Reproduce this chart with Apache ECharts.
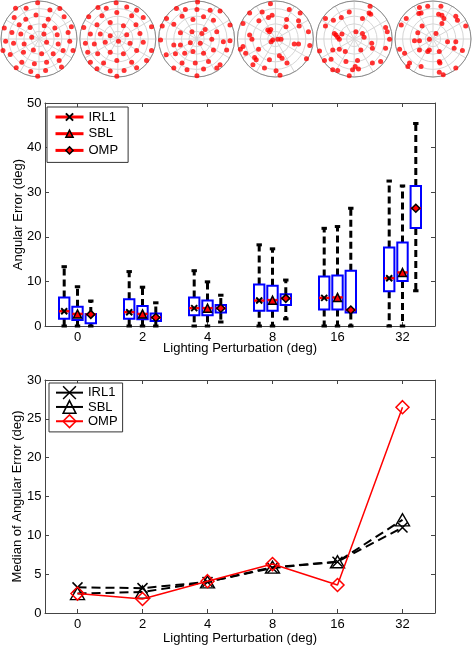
<!DOCTYPE html>
<html><head><meta charset="utf-8">
<script src="https://cdn.jsdelivr.net/npm/echarts@6/dist/echarts.min.js"></script>
<style>html,body{margin:0;padding:0;background:#fff}#c{width:472px;height:646px}</style>
</head><body><div id="c"></div><script>
// ---------- DATA ----------
const categories = ['0', '2', '4', '8', '16', '32'];
const methods = ['IRL1', 'SBL', 'OMP'];
// box statistics per category: [min, q1, median, q3, max]  (deg)
const boxIRL1 = [[0,1.65,3.3,6.4,13.3],[0,1.65,3.1,6.0,12.2],[0,2.4,4.0,6.4,12.4],[0,3.4,5.7,9.3,18.2],[0,3.7,6.3,11.1,21.9],[0,7.8,10.7,17.6,32.5]];
const boxSBL  = [[0,1.35,2.7,4.3,8.8],[0,1.5,2.7,4.5,8.7],[0,2.4,4.0,5.7,9.9],[0,3.4,5.8,9.0,17.3],[0,3.7,6.4,11.3,22.3],[0,10.1,12.0,18.7,31.4]];
const boxOMP  = [[0,0.6,2.6,2.7,5.6],[0,1.1,1.9,2.8,5.2],[0.9,3.0,4.0,4.7,6.9],[1.6,4.7,6.2,7.1,10.3],[0,3.0,3.6,12.4,26.4],[7.9,22.0,26.4,31.4,45.4]];
// median angular error (bottom chart)
const medIRL1 = [3.3, 3.2, 4.0, 5.8, 6.6, 11.0];
const medSBL  = [2.5, 2.7, 4.0, 5.9, 6.6, 12.0];
const medOMP  = [2.5, 1.8, 4.1, 6.3, 3.6, 26.5];
// light directions (projected, unit circle radius = 115)
const LIGHT_R = 115;
const light1 = [[-4,110],[-71,93],[-39,93],[33,88],[63,92],[-75,65],[-9,73],[-40,60],[28,60],[76,67],[-105,33],[-60,43],[16,40],[-27,35],[48,33],[98,37],[-82,20],[-55,15],[-22,5],[15,15],[55,13],[88,20],[-101,-7],[-77,-13],[-45,-15],[23,-10],[58,-15],[93,-7],[-109,-35],[-87,-47],[-47,-40],[-17,-33],[8,-45],[43,-45],[73,-35],[103,-35],[-52,-70],[-14,-75],[23,-70],[61,-65],[-69,-87],[-25,-98],[20,-95],[68,-85],[-4,-113]];
const light2 = [[-5,110],[-60,95],[-35,93],[27,97],[57,87],[-88,67],[-48,70],[-3,80],[42,70],[77,65],[-103,35],[-63,43],[-23,50],[17,40],[55,43],[102,37],[-83,15],[-53,15],[-23,10],[27,13],[67,17],[-98,-13],[-71,-15],[-38,-10],[2,-7],[37,-13],[77,-10],[-91,-40],[-61,-45],[-23,-40],[17,-45],[57,-35],[102,-35],[-83,-70],[-43,-73],[-3,-65],[42,-70],[87,-65],[-63,-90],[-23,-97],[19,-95],[57,-87],[-3,-113]];
const light3 = [[3,112],[-61,92],[-34,89],[1,89],[41,87],[71,85],[-91,62],[-69,45],[-44,69],[-11,59],[21,67],[51,57],[101,42],[-104,39],[-49,19],[-14,22],[26,29],[16,17],[61,22],[-109,-3],[-69,-18],[-49,-18],[-19,-11],[11,-13],[46,-1],[81,-8],[101,-5],[-92,-48],[-64,-45],[-36,-43],[-11,-38],[21,-43],[51,-33],[91,-33],[-69,-88],[-44,-73],[-4,-73],[36,-68],[71,-78],[-29,-93],[21,-91],[61,-88],[1,-111]];
const light4 = [[-15,107],[-78,79],[-40,82],[-21,65],[-10,72],[42,89],[75,79],[-98,47],[-50,55],[34,59],[70,55],[-23,27],[-14,29],[-18,22],[32,37],[72,39],[100,22],[-78,12],[-71,-1],[-13,-8],[-8,-3],[7,-1],[17,-1],[57,-15],[70,-15],[104,-20],[-98,-23],[-106,-31],[-90,-43],[-51,-31],[-58,-63],[-63,-56],[-18,-63],[12,-51],[20,-58],[35,-73],[94,-60],[-68,-78],[-33,-88],[2,-96],[14,-110]];
const light5 = [[48,99],[-15,82],[45,79],[50,75],[-87,62],[-63,57],[-39,65],[25,62],[-87,39],[-60,17],[-55,12],[-50,5],[-37,15],[-45,-1],[5,22],[25,17],[30,5],[95,35],[100,22],[107,-1],[-105,-36],[-65,-33],[-45,-31],[-27,-38],[20,-33],[53,-13],[55,-28],[95,-28],[-90,-65],[-70,-61],[-25,-68],[10,-65],[55,-73],[80,-68],[-65,-93],[-50,-95],[3,-83],[-5,-93],[13,-91],[-15,-111]];
const light6 = [[-41,95],[-16,99],[24,99],[-43,77],[-36,79],[17,75],[27,72],[33,62],[69,69],[74,57],[27,47],[-81,62],[-96,42],[-33,39],[-46,19],[99,39],[-56,-5],[-41,-5],[-11,-1],[9,17],[44,-8],[69,-8],[-101,-31],[-86,-43],[-41,-33],[-16,-38],[-11,-33],[19,-38],[64,-28],[89,-35],[-76,-83],[-71,-73],[-36,-83],[19,-68],[21,-73],[69,-88],[19,-101],[31,-108]];
const lightSets = [light1, light2, light3, light4, light5, light6];

// ---------- BUILD ----------
const FONT = '"Liberation Sans", Arial, Helvetica, sans-serif';
const AX = '#444';
const grid = [], xAxis = [], yAxis = [], series = [], polar = [], radiusAxis = [], angleAxis = [];

// top: polar scatter plots
const PR = 38, PCY = 39;
lightSets.forEach((pts, i) => {
  const cx = 39 + i * 78.8;
  polar.push({ center: [cx, PCY], radius: PR });
  radiusAxis.push({ polarIndex: i, type: 'value', min: 0, max: 1, interval: 0.2,
    axisLine: { show: false }, axisTick: { show: false }, axisLabel: { show: false },
    splitLine: { show: true, lineStyle: { color: '#d6d6d6', width: 1 } } });
  angleAxis.push({ polarIndex: i, type: 'value', min: 0, max: 360, interval: 30, startAngle: 90,
    axisLine: { show: true, lineStyle: { color: '#8c8c8c', width: 1 } }, axisTick: { show: false }, axisLabel: { show: false },
    splitLine: { show: true, lineStyle: { color: '#d6d6d6', width: 1 } } });
  grid.push({ left: cx - PR, top: PCY - PR, width: 2 * PR, height: 2 * PR, outerBoundsMode: 'none' });
  xAxis.push({ gridIndex: i, type: 'value', min: -LIGHT_R, max: LIGHT_R, show: false });
  yAxis.push({ gridIndex: i, type: 'value', min: -LIGHT_R, max: LIGHT_R, show: false });
  series.push({ type: 'scatter', xAxisIndex: i, yAxisIndex: i, data: pts, symbolSize: 5,
    itemStyle: { color: '#ff0000' }, silent: true, z: 5 });
});

const tickStyle = { show: true, inside: true, length: 4, lineStyle: { color: AX, width: 1 } };
const lineAx = { show: true, onZero: false, lineStyle: { color: AX, width: 1 } };
const lblStyle = { color: '#000', fontSize: 13, fontFamily: FONT };

function catAxis(gridIndex, visible, extra) {
  const base = { gridIndex, type: 'category', data: categories, boundaryGap: true };
  if (!visible) return Object.assign(base, { show: false });
  return Object.assign(base, {
    axisLine: lineAx, axisTick: Object.assign({ alignWithLabel: true }, tickStyle),
    axisLabel: Object.assign({ margin: 5 }, lblStyle), splitLine: { show: false },
    nameMoveOverlap: false, nameTextStyle: lblStyle
  }, extra || {});
}
function valAxis(gridIndex, visible, min, max, interval, extra) {
  const base = { gridIndex, type: 'value', min, max, interval };
  if (!visible) return Object.assign(base, { show: false });
  return Object.assign(base, {
    axisLine: lineAx, axisTick: tickStyle, axisLabel: Object.assign({ margin: 3.5 }, lblStyle),
    splitLine: { show: false }, nameMoveOverlap: false, nameTextStyle: lblStyle
  }, extra || {});
}

// middle: box plots (one grid per method, shifted horizontally)
const MID = { left: 45, right: 37, top: 103, height: 223 };
const SHIFT = 13.3;
const boxSets = [boxIRL1, boxSBL, boxOMP];
const midG = grid.length;
[-SHIFT, 0, SHIFT].forEach(s => grid.push({ left: MID.left + s, right: MID.right - s, top: MID.top, height: MID.height, outerBoundsMode: 'none' }));
const midX = xAxis.length;
[0, 1, 2].forEach(j => xAxis.push(catAxis(midG + j, j === 1,
  { name: 'Lighting Perturbation (deg)', nameLocation: 'middle', nameGap: 15.5 })));
xAxis.push(catAxis(midG + 1, true, { position: 'top', axisLabel: { show: false } }));
const midY = yAxis.length;
[0, 1, 2].forEach(j => yAxis.push(valAxis(midG + j, j === 1, 0, 50, 10,
  { name: 'Angular Error (deg)', nameLocation: 'middle', nameGap: 20 })));
yAxis.push(valAxis(midG + 1, true, 0, 50, 10, { position: 'right', axisLabel: { show: false } }));

function renderBox(params, api) {
  const c = api.value(0);
  const pMin = api.coord([c, api.value(1)]);
  const pQ1 = api.coord([c, api.value(2)]);
  const pMed = api.coord([c, api.value(3)]);
  const pQ3 = api.coord([c, api.value(4)]);
  const pMax = api.coord([c, api.value(5)]);
  const bw = api.size([1, 0])[0] * 0.16;
  const x = pMed[0], cap = bw * 0.26;
  const dash = { stroke: '#000', lineWidth: 3, lineDash: [7, 4] };
  const capS = { stroke: '#000', lineWidth: 3 };
  return { type: 'group', children: [
    { type: 'line', shape: { x1: x, y1: pQ3[1], x2: x, y2: pMax[1] }, style: dash },
    { type: 'line', shape: { x1: x, y1: pQ1[1], x2: x, y2: pMin[1] }, style: dash },
    { type: 'line', shape: { x1: x - cap, y1: pMax[1], x2: x + cap, y2: pMax[1] }, style: capS },
    { type: 'line', shape: { x1: x - cap, y1: pMin[1], x2: x + cap, y2: pMin[1] }, style: capS },
    { type: 'rect', shape: { x: x - bw / 2, y: pQ3[1], width: bw, height: pQ1[1] - pQ3[1] },
      style: { fill: 'none', stroke: '#0000ff', lineWidth: 2 } },
    { type: 'line', shape: { x1: x - bw / 2, y1: pMed[1], x2: x + bw / 2, y2: pMed[1] },
      style: { stroke: '#ff0000', lineWidth: 2.5 } }
  ] };
}

const XPATH = 'path://M0,0L10,10M0,10L10,0';
const midSymbols = [
  { symbol: XPATH, symbolSize: 6, itemStyle: { color: '#000', borderColor: '#000', borderWidth: 2 } },
  { symbol: 'triangle', symbolSize: 8, itemStyle: { color: '#ff0000', borderColor: '#000', borderWidth: 1.5 } },
  { symbol: 'diamond', symbolSize: 8, itemStyle: { color: '#ff0000', borderColor: '#000', borderWidth: 1.5 } }
];
methods.forEach((m, j) => {
  series.push(Object.assign({ type: 'line', name: m, xAxisIndex: midX + j, yAxisIndex: midY + j,
    data: boxSets[j].map(b => b[2]), lineStyle: { opacity: 0 }, showSymbol: true, silent: true, z: 4 }, midSymbols[j]));
});
methods.forEach((m, j) => {
  series.push({ type: 'custom', name: m + ' box', xAxisIndex: midX + j, yAxisIndex: midY + j,
    data: boxSets[j].map((b, i) => [i].concat(b)), encode: { x: 0, y: [1, 2, 3, 4, 5] },
    renderItem: renderBox, silent: true, z: 3 });
});

// bottom: median line chart
const botG = grid.length;
grid.push({ left: 45, right: 37, top: 380, height: 233, outerBoundsMode: 'none' });
const botX = xAxis.length;
xAxis.push(catAxis(botG, true, { name: 'Lighting Perturbation (deg)', nameLocation: 'middle', nameGap: 18.5 }));
xAxis.push(catAxis(botG, true, { position: 'top', axisLabel: { show: false } }));
const botY = yAxis.length;
yAxis.push(valAxis(botG, true, 0, 30, 5, { name: 'Median of Angular Error (deg)', nameLocation: 'middle', nameGap: 21 }));
yAxis.push(valAxis(botG, true, 0, 30, 5, { position: 'right', axisLabel: { show: false } }));

const medSets = [medIRL1, medSBL, medOMP];
const botCfg = [
  { symbol: XPATH, symbolSize: 10, itemStyle: { color: 'transparent', borderColor: '#000', borderWidth: 1.5 },
    lineStyle: { color: '#000', width: 2, type: [9, 5] } },
  { symbol: 'triangle', symbolSize: [14, 12], itemStyle: { color: 'transparent', borderColor: '#000', borderWidth: 1.4 },
    lineStyle: { color: '#000', width: 2, type: [9, 5] } },
  { symbol: 'diamond', symbolSize: 13, itemStyle: { color: 'transparent', borderColor: '#ff0000', borderWidth: 1.5 },
    lineStyle: { color: '#ff0000', width: 1.5, type: 'solid' } }
];
methods.forEach((m, j) => {
  series.push(Object.assign({ type: 'line', name: m + ' ', xAxisIndex: botX, yAxisIndex: botY,
    data: medSets[j], showSymbol: true, silent: true, z: 4 - (2 - j) * 0.1 }, botCfg[j]));
});

const legendText = { color: '#000', fontSize: 13, fontFamily: FONT, lineHeight: 14 };
const option = {
  animation: false,
  backgroundColor: '#fff',
  textStyle: { fontFamily: FONT },
  polar, radiusAxis, angleAxis, grid, xAxis, yAxis, series,
  legend: [
    { orient: 'vertical', left: 47, top: 107, padding: [3, 10, 5, 7], itemWidth: 28, itemHeight: 9, itemGap: 2.7,
      backgroundColor: '#fff', borderColor: '#333', borderWidth: 1, borderRadius: 0,
      textStyle: legendText, selectedMode: false,
      lineStyle: { color: '#ff0000', width: 3, opacity: 1, type: 'solid' },
      data: methods.map((m, j) => ({ name: m, itemStyle: { borderWidth: j === 0 ? 2 : 1.5 } })) },
    { orient: 'vertical', left: 49, top: 383, padding: [2.5, 5, 3.5, 6], itemWidth: 27, itemHeight: 16, itemGap: 0,
      backgroundColor: '#fff', borderColor: '#333', borderWidth: 1, borderRadius: 0,
      textStyle: legendText, selectedMode: false,
      lineStyle: { type: 'solid', width: 2 },
      formatter: n => n.trim(),
      data: methods.map(m => ({ name: m + ' ', itemStyle: { borderWidth: 1.5 } })) }
  ]
};
const chart = echarts.init(document.getElementById('c'), null, { renderer: 'canvas' });
chart.setOption(option);
</script></body></html>
